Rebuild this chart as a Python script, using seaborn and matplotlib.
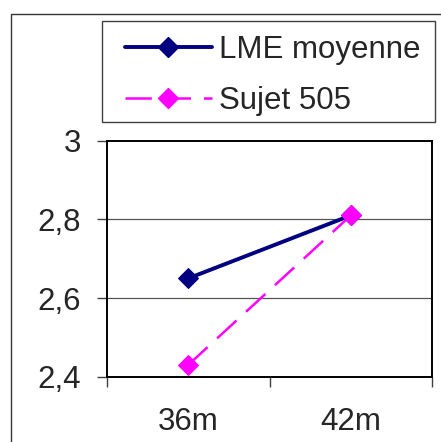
import matplotlib
matplotlib.use("Agg")
import matplotlib.pyplot as plt
from matplotlib.patches import Rectangle
from matplotlib.lines import Line2D
import seaborn as sns
import numpy as np
import pandas as pd

categories = ["36m", "42m"]
lme_moyenne = [2.65, 2.81]
sujet_505 = [2.43, 2.81]
y_ticks = [2.4, 2.6, 2.8, 3.0]
y_tick_labels = ["2,4", "2,6", "2,8", "3"]
series_names = ["LME moyenne", "Sujet 505"]

sns.set_style("white")
plt.rcParams['font.family'] = ['Liberation Sans', 'DejaVu Sans']

W, H = 441, 442
FS = 22.5
fig = plt.figure(figsize=(W / 100, H / 100), dpi=100)
ax = fig.add_axes([107 / W, 1 - 376.7 / H, (432 - 107) / W, (376.7 - 140.7) / H])

xpos = np.arange(len(categories))
df1 = pd.DataFrame({"x": xpos, "y": lme_moyenne})
df2 = pd.DataFrame({"x": xpos, "y": sujet_505})

navy = "#000080"
mag = "#FF00FF"
NAVY_LW, MAG_LW = 2.8, 1.8
DASH = [10.5, 5.2]
sns.lineplot(data=df1, x="x", y="y", ax=ax, color=navy, lw=NAVY_LW, marker="D",
             markersize=10, markeredgecolor=navy, markerfacecolor=navy, zorder=3)
sns.lineplot(data=df2, x="x", y="y", ax=ax, color=mag, lw=MAG_LW, marker="D",
             markersize=10.5, markeredgecolor=mag, markerfacecolor=mag, zorder=4,
             dashes=False)
ax.lines[-1].set_dashes(DASH)

ax.set_xlim(-0.5, len(categories) - 0.5)
ax.set_ylim(2.4, 3.0)
ax.set_xlabel("")
ax.set_ylabel("")

ax.set_yticks(y_ticks)
ax.set_yticklabels(y_tick_labels, fontsize=FS)
ax.set_xticks(np.arange(len(categories) + 1) - 0.5)
ax.set_xticklabels([])
ax.set_xticks(xpos, minor=True)
ax.set_xticklabels(categories, minor=True, fontsize=FS)
ax.tick_params(axis="x", which="major", direction="out", length=7.5, width=1, color="#404040", bottom=True)
ax.tick_params(axis="x", which="minor", length=0, pad=22, bottom=True)
ax.tick_params(axis="y", direction="out", length=7.5, width=1, color="#404040", pad=11, left=True)

for y in [2.6, 2.8]:
    ax.axhline(y, color="#555555", lw=0.9, zorder=1)
for s in ax.spines.values():
    s.set_color("black")
    s.set_linewidth(1.4)

# outer chart border
fig.patches.append(Rectangle((11 / W, -0.2), 1.2, 1.2 - 14 / H, transform=fig.transFigure,
                             fill=False, edgecolor="#333333", lw=1.0))
# legend frame
fig.patches.append(Rectangle((102 / W, 1 - 122 / H), (435 - 102) / W, (122 - 21) / H,
                             transform=fig.transFigure, fill=False, edgecolor="#404040", lw=1.0))

handles = [
    Line2D([], [], color=navy, lw=NAVY_LW, marker="D", markersize=10, markerfacecolor=navy, markeredgecolor=navy),
    Line2D([], [], color=mag, lw=MAG_LW, marker="D", markersize=10.5, markerfacecolor=mag, markeredgecolor=mag, dashes=DASH),
]
leg = fig.legend(handles, series_names, loc="upper left",
                 bbox_to_anchor=(125 / W, 1 - 35 / H),
                 fontsize=FS, frameon=False, handlelength=2.78,
                 handletextpad=0.22, borderpad=0, labelspacing=0.68,
                 borderaxespad=0)

fig.savefig("out.png", dpi=100)
